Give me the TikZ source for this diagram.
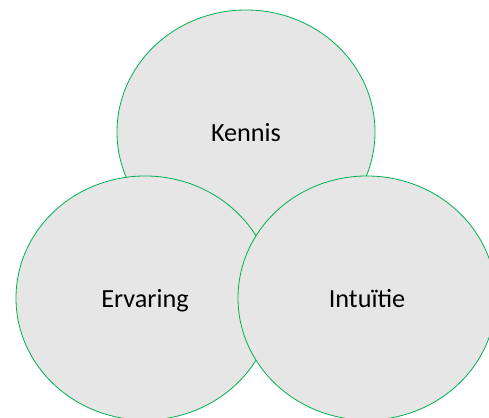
\documentclass[tikz,border=0pt]{standalone}
\usepackage{fontspec}
\setmainfont{Carlito}
\usetikzlibrary{shapes.geometric,positioning}
\definecolor{circlegray}{RGB}{231,230,230}
\definecolor{circlegreen}{RGB}{0,176,80}

\begin{document}
\begin{tikzpicture}[x=1pt, y=1pt,
  blob/.style={draw=circlegreen, fill=circlegray, ellipse, line width=0.8pt, inner sep=0pt, minimum width=258pt, minimum height=244pt, text height=19pt, text depth=0pt, font=\fontsize{26.2}{31}\selectfont},
]
\clip (0,0) rectangle (489,417);
\node[blob] (kennis) at (246,285) {Kennis};
\node[blob] (ervaring) at (145,119) {Ervaring};
\node[blob] (intuitie) at (367,119) {Intuïtie};
\end{tikzpicture}
\end{document}
